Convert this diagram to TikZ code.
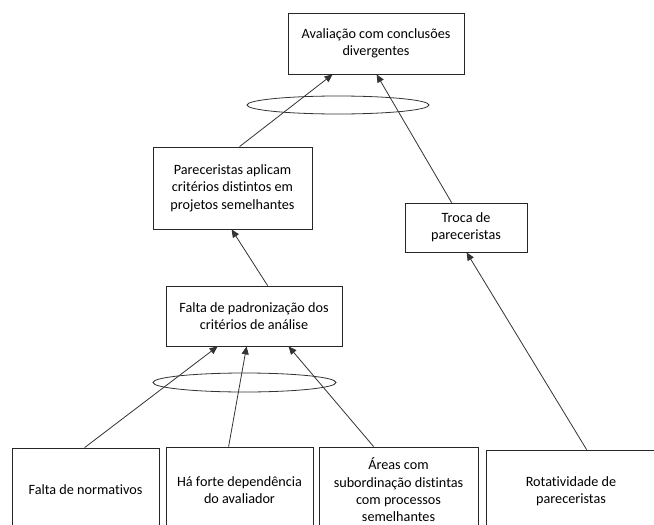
\documentclass[tikz,border=0pt]{standalone}
\usepackage{fontspec}
\setmainfont{Carlito}[Ligatures={NoCommon}]
\usetikzlibrary{arrows.meta,shapes.geometric}
\tikzset{
  box/.style={draw=black!85, line width=0.8pt, rectangle, align=center, inner sep=2pt,
    font=\fontsize{14.2}{17.4}\selectfont},
  arr/.style={draw=black!80, line width=0.8pt, -{Triangle[length=8pt,width=7pt]}},
  ring/.style={draw=black!80, line width=0.8pt, ellipse, inner sep=0pt}
}
\begin{document}
\begin{tikzpicture}[x=1pt,y=-1pt]
\useasboundingbox (0,0) rectangle (654,525);
\clip (0,0) rectangle (654,525);
\node[box, minimum width=176, minimum height=61] (top) at (376,43.5) {Avaliação com conclusões\\divergentes};
\node[ring, minimum width=182, minimum height=18] (e1) at (338,105) {};
\node[box, minimum width=159, minimum height=82] (par) at (232.5,188) {Pareceristas aplicam\\critérios distintos em\\projetos semelhantes};
\node[box, minimum width=122, minimum height=49] (troca) at (466,227.5) {Troca de\\pareceristas};
\node[box, minimum width=176, minimum height=60] (falta) at (254,316) {Falta de padronização dos\\critérios de análise};
\node[ring, minimum width=183, minimum height=19] (e2) at (244.5,382.5) {};
\node[box, minimum width=147, minimum height=84] (b1) at (85.5,490) {Falta de normativos};
\node[box, minimum width=147, minimum height=86] (b2) at (239.5,490) {Há forte dependência\\do avaliador};
\node[box, minimum width=159, minimum height=86] (b3) at (398.5,490) {Áreas com\\subordinação distintas\\com processos\\semelhantes};
\node[box, minimum width=170, minimum height=82] (b4) at (571,491) {Rotatividade de\\pareceristas};

\draw[arr] ([xshift=73]b1.north west) -- ([xshift=52]falta.south west);
\draw[arr] ([xshift=63]b2.north west) -- ([xshift=81]falta.south west);
\draw[arr] ([xshift=55]b3.north west) -- ([xshift=123]falta.south west);
\draw[arr] ([xshift=101]b4.north west) -- ([xshift=62]troca.south west);
\draw[arr] ([xshift=102]falta.north west) -- ([xshift=79]par.south west);
\draw[arr] ([xshift=87]par.north west) -- ([xshift=45]top.south west);
\draw[arr] ([xshift=47]troca.north west) -- ([xshift=89]top.south west);
\end{tikzpicture}
\end{document}
